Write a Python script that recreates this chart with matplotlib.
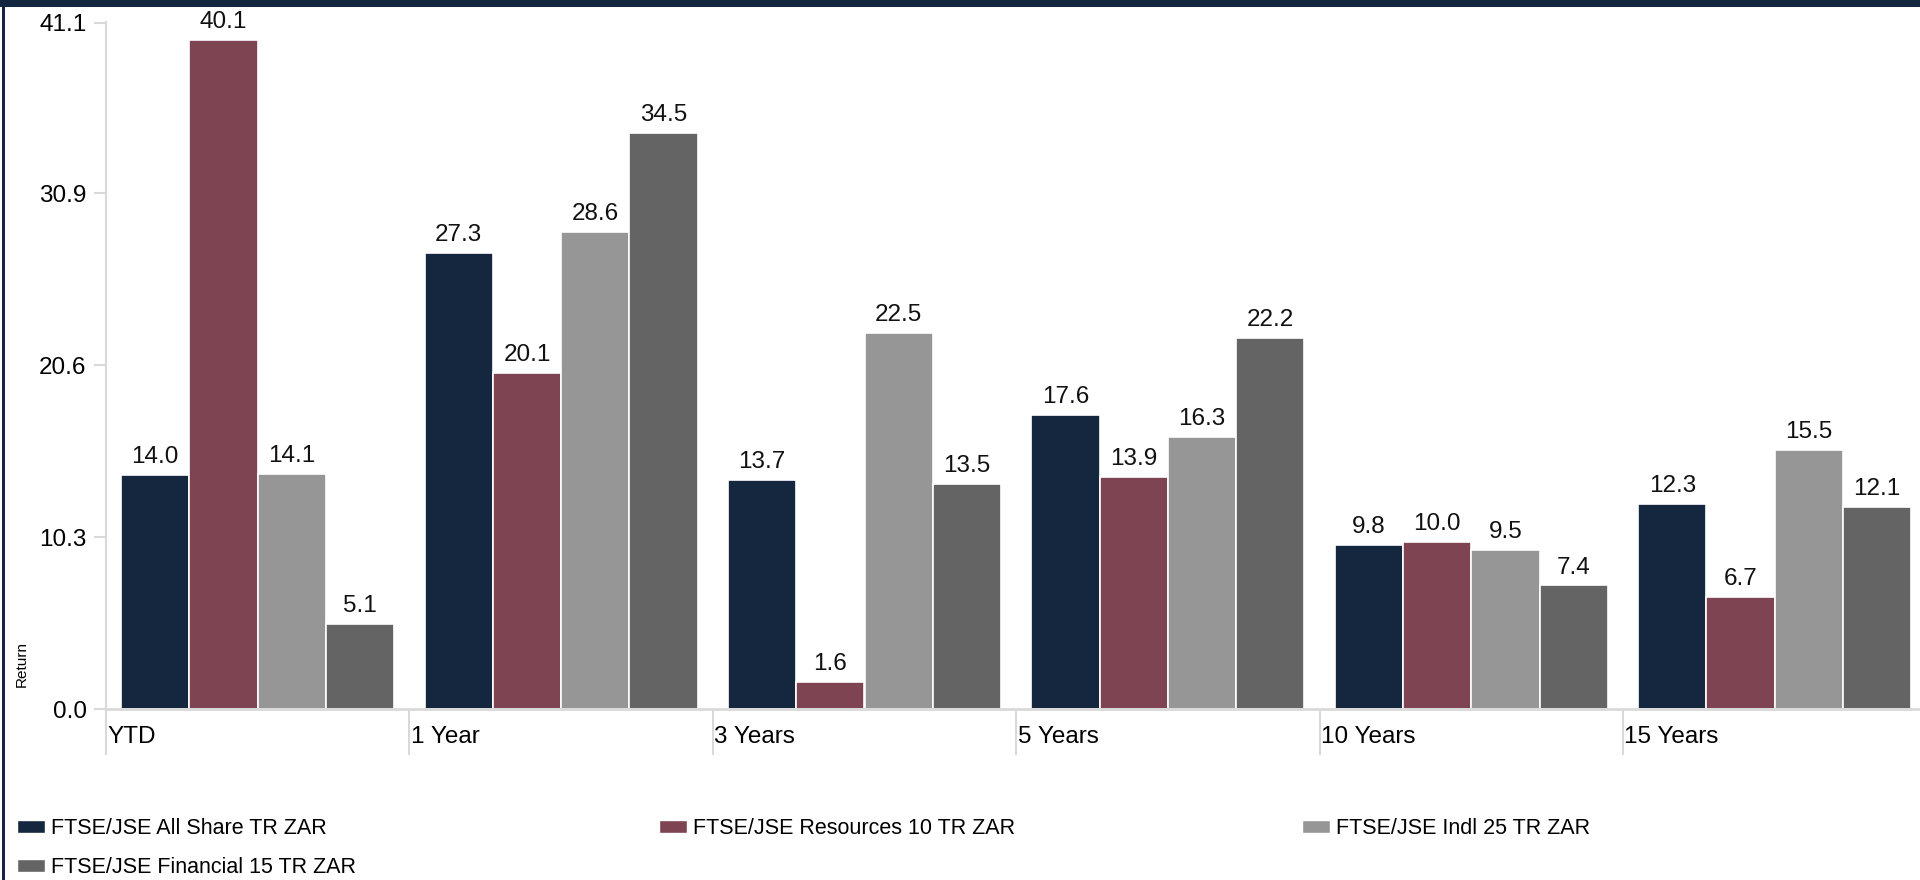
import matplotlib.pyplot as plt
import matplotlib.patches as mpatches
import numpy as np

plt.rcParams['font.family'] = ['Liberation Sans', 'DejaVu Sans']

categories = ["YTD", "1 Year", "3 Years", "5 Years", "10 Years", "15 Years"]
series_names = ["FTSE/JSE All Share TR ZAR", "FTSE/JSE Resources 10 TR ZAR",
                "FTSE/JSE Indl 25 TR ZAR", "FTSE/JSE Financial 15 TR ZAR"]
all_share = [14.0, 27.3, 13.7, 17.6, 9.8, 12.3]
resources = [40.1, 20.1, 1.6, 13.9, 10.0, 6.7]
indl = [14.1, 28.6, 22.5, 16.3, 9.5, 15.5]
financial = [5.1, 34.5, 13.5, 22.2, 7.4, 12.1]
ytick_labels = ["0.0", "10.3", "20.6", "30.9", "41.1"]

colors = ["#14273f", "#7e4452", "#969696", "#646464"]
series = [all_share, resources, indl, financial]

W, H = 1920, 880
fig = plt.figure(figsize=(W / 100, H / 100), dpi=100)

# axes placement in pixels
left_px, right_px, top_px, bot_px = 106, 1920, 22, 709
ax = fig.add_axes([left_px / W, (H - bot_px) / H, (right_px - left_px) / W, (bot_px - top_px) / H])

cat_px = 303.4
ax.set_xlim(0, (right_px - left_px) / cat_px)
ax.set_ylim(0, 41.15)

bw = 0.225
x = np.arange(len(categories))
for j, vals in enumerate(series):
    pos = x + 0.05 + bw * (j + 0.5)
    ax.bar(pos, vals, width=bw, color=colors[j], edgecolor="white", linewidth=1.2,
           label=series_names[j], zorder=2)
    for p, v in zip(pos, vals):
        ax.annotate("%.1f" % v, (p, v), xytext=(0, 5), textcoords="offset points",
                    ha="center", va="bottom", fontsize=17.5, color="#111111")

for s in ["top", "right"]:
    ax.spines[s].set_visible(False)
ax.spines["left"].set_color("#d9d9d9")
ax.spines["bottom"].set_color("#d9d9d9")
ax.spines["left"].set_linewidth(1.5)
ax.spines["bottom"].set_linewidth(2)

ax.set_yticks([float(t) for t in ytick_labels])
ax.set_yticklabels(ytick_labels, fontsize=17.5)
ax.tick_params(axis="y", length=9, color="#d9d9d9", width=1.5, pad=5)
ax.set_ylabel("Return", fontsize=11)
ax.yaxis.set_label_coords(-0.0425, 0.065)

# category separators and left aligned labels
ax.set_xticks(x)
ax.set_xticklabels([])
ax.tick_params(axis="x", length=33, color="#d9d9d9", width=1.5)
for i, c in enumerate(categories):
    ax.annotate(c, (i, 0), xytext=(1, -20), textcoords="offset points",
                ha="left", va="center", fontsize=17.5, annotation_clip=False)

# legend, laid out in three fixed columns
handles = [mpatches.Patch(facecolor=colors[j], edgecolor="white") for j in range(4)]
cols = [(17, [0, 3]), (659, [1]), (1302, [2])]
for xpx, idx in cols:
    lg = fig.legend([handles[k] for k in idx], [series_names[k] for k in idx],
                    loc="upper left", bbox_to_anchor=(xpx / W, (H - 818) / H),
                    frameon=False, fontsize=15.5, handlelength=1.3, handleheight=0.55,
                    handletextpad=0.3, labelspacing=0.85, borderaxespad=0,
                    borderpad=0)

# frame: navy top band and thin left line
fig.patches.append(mpatches.Rectangle((0, (H - 7) / H), 1, 7 / H, transform=fig.transFigure,
                                      facecolor="#13263f", edgecolor="none"))
fig.patches.append(mpatches.Rectangle((2 / W, 0), 2.5 / W, 1, transform=fig.transFigure,
                                      facecolor="#13263f", edgecolor="none"))

fig.savefig("out.png", dpi=100)
